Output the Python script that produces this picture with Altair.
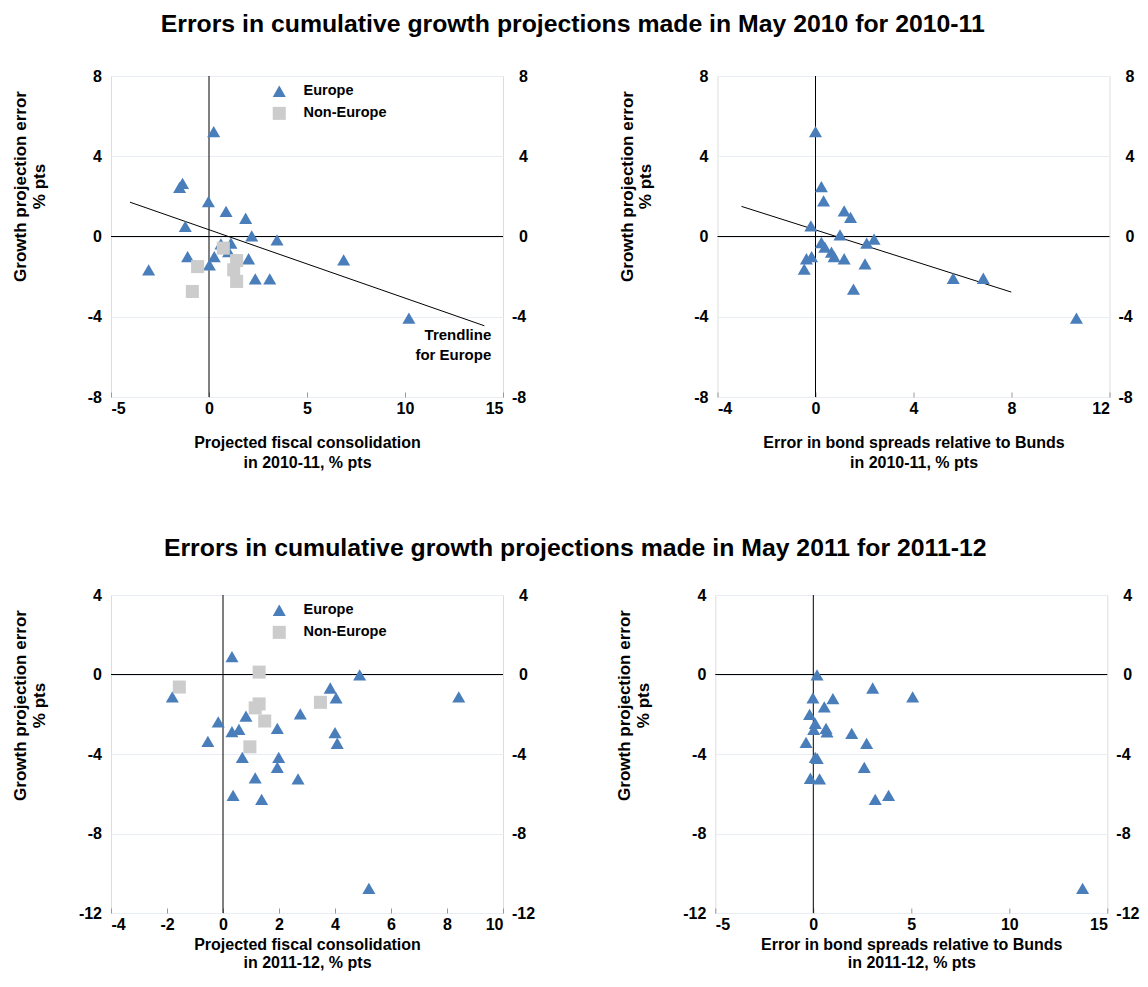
import altair as alt
import pandas as pd

FONT = "Liberation Sans"
BLUE = "#4a7ebb"
GREY = "#cccccc"
GROUPS = ["Europe", "Non-Europe"]

# ---- Top row: projections made in May 2010 for 2010-11 ----
p1_eu_x = [0.24, -1.5, -1.35, -0.03, 0.87, 1.87, -1.21, 2.18, 3.47, 1.12, 0.61, 1.0, 0.27, -1.09, 2.02, 6.87, 0.02, -3.08, 2.36, 3.10, 10.2]
p1_eu_y = [5.23, 2.45, 2.65, 1.74, 1.25, 0.91, 0.50, 0.03, -0.17, -0.33, -0.37, -0.75, -1.0, -1.0, -1.11, -1.16, -1.41, -1.66, -2.11, -2.11, -4.07]
p1_ne_x = [0.73, -0.58, 1.41, 1.26, 1.41, -0.85]
p1_ne_y = [-0.58, -1.5, -1.2, -1.66, -2.24, -2.74]
trend1_x = [-4.03, 14.05]
trend1_y = [1.71, -4.45]

p2_eu_x = [0.0, 0.24, 0.33, 1.17, 1.43, -0.19, 1.0, 2.39, 2.09, 0.24, 0.38, 0.65, 0.76, 1.17, -0.16, -0.37, -0.46, 2.02, 1.55, 5.62, 6.85, 10.65]
p2_eu_y = [5.23, 2.49, 1.78, 1.28, 0.95, 0.53, 0.08, -0.13, -0.33, -0.30, -0.53, -0.78, -1.0, -1.11, -1.0, -1.11, -1.63, -1.36, -2.62, -2.08, -2.08, -4.07]
trend2_x = [-3.02, 7.99]
trend2_y = [1.5, -2.77]

# ---- Bottom row: projections made in May 2011 for 2011-12 ----
p3_eu_x = [0.32, 4.88, 3.83, 4.04, 8.42, -1.81, 2.76, 0.82, -0.17, 1.94, 0.57, 0.32, 4.0, -0.54, 4.08, 0.69, 1.99, 1.94, 1.15, 2.68, 0.36, 1.38, 5.21]
p3_eu_y = [0.90, -0.02, -0.68, -1.18, -1.13, -1.13, -1.98, -2.09, -2.38, -2.71, -2.76, -2.87, -2.92, -3.37, -3.46, -4.17, -4.17, -4.67, -5.20, -5.25, -6.08, -6.28, -10.76]
p3_ne_x = [1.29, -1.56, 1.29, 1.15, 1.49, 3.48, 0.96]
p3_ne_y = [0.12, -0.63, -1.48, -1.68, -2.34, -1.40, -3.64]

p4_eu_x = [0.19, 3.03, 5.07, -0.02, 1.0, 0.56, -0.19, 0.10, 0.02, 0.65, 0.70, 1.96, -0.37, 2.72, 0.10, 0.2, 2.60, -0.15, 0.32, 3.84, 3.16, 13.74]
p4_eu_y = [-0.02, -0.68, -1.13, -1.18, -1.21, -1.63, -2.01, -2.46, -2.76, -2.71, -2.89, -2.96, -3.42, -3.47, -4.17, -4.22, -4.67, -5.22, -5.25, -6.08, -6.28, -10.76]

TITLE_1 = "Errors in cumulative growth projections made in May 2010 for 2010-11"
TITLE_2 = "Errors in cumulative growth projections made in May 2011 for 2011-12"
Y_TITLE = ["Growth projection error", "% pts"]
note_x = [14.4]
note_y = [-4.93]
note_text = ["Trendline\nfor Europe"]

W = 392
TICK_FS = 16
AXT_FS = 16
LABEL_EXPR = "datum.value < 0 ? '-' + abs(datum.value) : '' + datum.value"


def points_df(ex, ey, nx=None, ny=None):
    rows = [{"x": a, "y": b, "group": "Europe"} for a, b in zip(ex, ey)]
    if nx:
        rows += [{"x": a, "y": b, "group": "Non-Europe"} for a, b in zip(nx, ny)]
    return pd.DataFrame(rows)


def panel(df, xdom, xticks, ydom, yticks, xtitle, show_legend, height,
          x_title_pad, x_line_h, trend=None, note=None):
    xs = alt.Scale(domain=xdom, nice=False, zero=False)
    ys = alt.Scale(domain=ydom, nice=False, zero=False)
    xaxis = alt.Axis(values=xticks, title=xtitle, grid=False, domain=False,
                     ticks=True, tickSize=5, tickColor="#999999", offset=-5,
                     labelPadding=3, labelFont=FONT, labelFontSize=TICK_FS,
                     labelFontWeight="bold", labelColor="black", labelExpr=LABEL_EXPR,
                     titleFont=FONT, titleFontSize=AXT_FS, titleFontWeight="bold",
                     titleColor="black", titlePadding=x_title_pad,
                     titleLineHeight=x_line_h)
    yaxis = alt.Axis(orient="left", values=yticks, title=Y_TITLE, grid=True,
                     gridColor="#e8ecf4", domain=False, ticks=False,
                     labelPadding=9.5, labelFont=FONT, labelFontSize=TICK_FS,
                     labelFontWeight="bold", labelColor="black", labelExpr=LABEL_EXPR,
                     titleFont=FONT, titleFontSize=17, titleFontWeight="bold",
                     titleColor="black", titleLineHeight=18.5, titleAngle=270,
                     titleBaseline="top", titleAlign="center",
                     titleX=-98.4, titleY=110)
    raxis = alt.Axis(orient="right", values=yticks, title=None, grid=False,
                     domain=False, ticks=False,
                     labelPadding={"condition": {"test": "datum.value < 0", "value": 8.5},
                                   "value": 15.5},
                     labelFont=FONT, labelFontSize=TICK_FS, labelFontWeight="bold",
                     labelColor="black", labelExpr=LABEL_EXPR)
    if show_legend:
        leg = alt.Legend(orient="none", legendX=161, legendY=8, title=None,
                         labelFont=FONT, labelFontSize=14.5, labelFontWeight="bold",
                         labelColor="black", symbolSize=170, symbolStrokeWidth=0,
                         rowPadding=7.1, labelOffset=17, padding=0)
    else:
        leg = None
    color = alt.Color("group:N", scale=alt.Scale(domain=GROUPS, range=[BLUE, GREY]), legend=leg)
    shape = alt.Shape("group:N", scale=alt.Scale(domain=GROUPS, range=["triangle-up", "square"]), legend=leg)
    X = alt.X("x:Q", scale=xs, axis=xaxis)
    Y = alt.Y("y:Q", scale=ys, axis=yaxis)

    vrule = alt.Chart(pd.DataFrame({"x": [0]})).mark_rule(color="black", strokeWidth=1).encode(x=X)
    hrule = alt.Chart(pd.DataFrame({"y": [0]})).mark_rule(color="black", strokeWidth=1).encode(y=Y)
    pts = alt.Chart(df).mark_point(filled=True, size=170, opacity=1, strokeWidth=0).encode(
        x=X, y=Y, color=color, shape=shape,
        order=alt.Order("group:N", sort="ascending"))
    layers = [vrule, hrule]
    if trend is not None:
        tdf = pd.DataFrame({"x": trend[0], "y": trend[1]})
        layers.append(alt.Chart(tdf).mark_line(color="black", strokeWidth=1).encode(x=X, y=Y))
    layers.append(pts)
    if note is not None:
        ndf = pd.DataFrame({"x": note[0], "y": note[1], "t": note[2]})
        layers.append(alt.Chart(ndf).mark_text(align="right", baseline="middle", lineBreak="\n",
                                               font=FONT, fontSize=15, fontWeight="bold",
                                               lineHeight=20, color="black").encode(x=X, y=Y, text="t:N"))
    inner = alt.layer(*layers)
    right = alt.Chart(df).mark_point(opacity=0).encode(
        x=X, y=alt.Y("y:Q", scale=ys, axis=raxis))
    return alt.layer(inner, right).resolve_axis(y="independent").properties(width=W, height=height)


p1 = panel(points_df(p1_eu_x, p1_eu_y, p1_ne_x, p1_ne_y), [-5, 15], [-5, 0, 5, 10, 15],
           [-8, 8], [-8, -4, 0, 4, 8],
           ["Projected fiscal consolidation", "in 2010-11, % pts"], True, 321, 18.5, 20,
           trend=(trend1_x, trend1_y), note=(note_x, note_y, note_text))
p2 = panel(points_df(p2_eu_x, p2_eu_y), [-4, 12], [-4, 0, 4, 8, 12],
           [-8, 8], [-8, -4, 0, 4, 8],
           ["Error in bond spreads relative to Bunds", "in 2010-11, % pts"], False, 321, 18.5, 20,
           trend=(trend2_x, trend2_y))
p3 = panel(points_df(p3_eu_x, p3_eu_y, p3_ne_x, p3_ne_y), [-4, 10], [-4, -2, 0, 2, 4, 6, 8, 10],
           [-12, 4], [-12, -8, -4, 0, 4],
           ["Projected fiscal consolidation", "in 2011-12, % pts"], True, 318, 4, 18)
p4 = panel(points_df(p4_eu_x, p4_eu_y), [-5, 15], [-5, 0, 5, 10, 15],
           [-12, 4], [-12, -8, -4, 0, 4],
           ["Error in bond spreads relative to Bunds", "in 2011-12, % pts"], False, 318, 4, 18)


def row(a, b, title, spacing, offset):
    return alt.hconcat(a, b, spacing=spacing).resolve_scale(
        color="independent", shape="independent").resolve_legend(
        color="independent", shape="independent").properties(
        title=alt.TitleParams(text=title, font=FONT, fontSize=24.8, fontWeight="bold",
                              color="black", anchor="middle", offset=offset))


chart = alt.vconcat(row(p1, p2, TITLE_1, 89.5, 31),
                    row(p3, p4, TITLE_2, 79.3, 25.5),
                    spacing=65).resolve_scale(
    color="independent", shape="independent").resolve_legend(
    color="independent", shape="independent").properties(
    padding={"left": 3, "top": 3, "right": 0, "bottom": 0}).configure_view(
    stroke=None).configure(background="white")

chart.save("out.html", embed_options={"renderer": "svg", "actions": False})
